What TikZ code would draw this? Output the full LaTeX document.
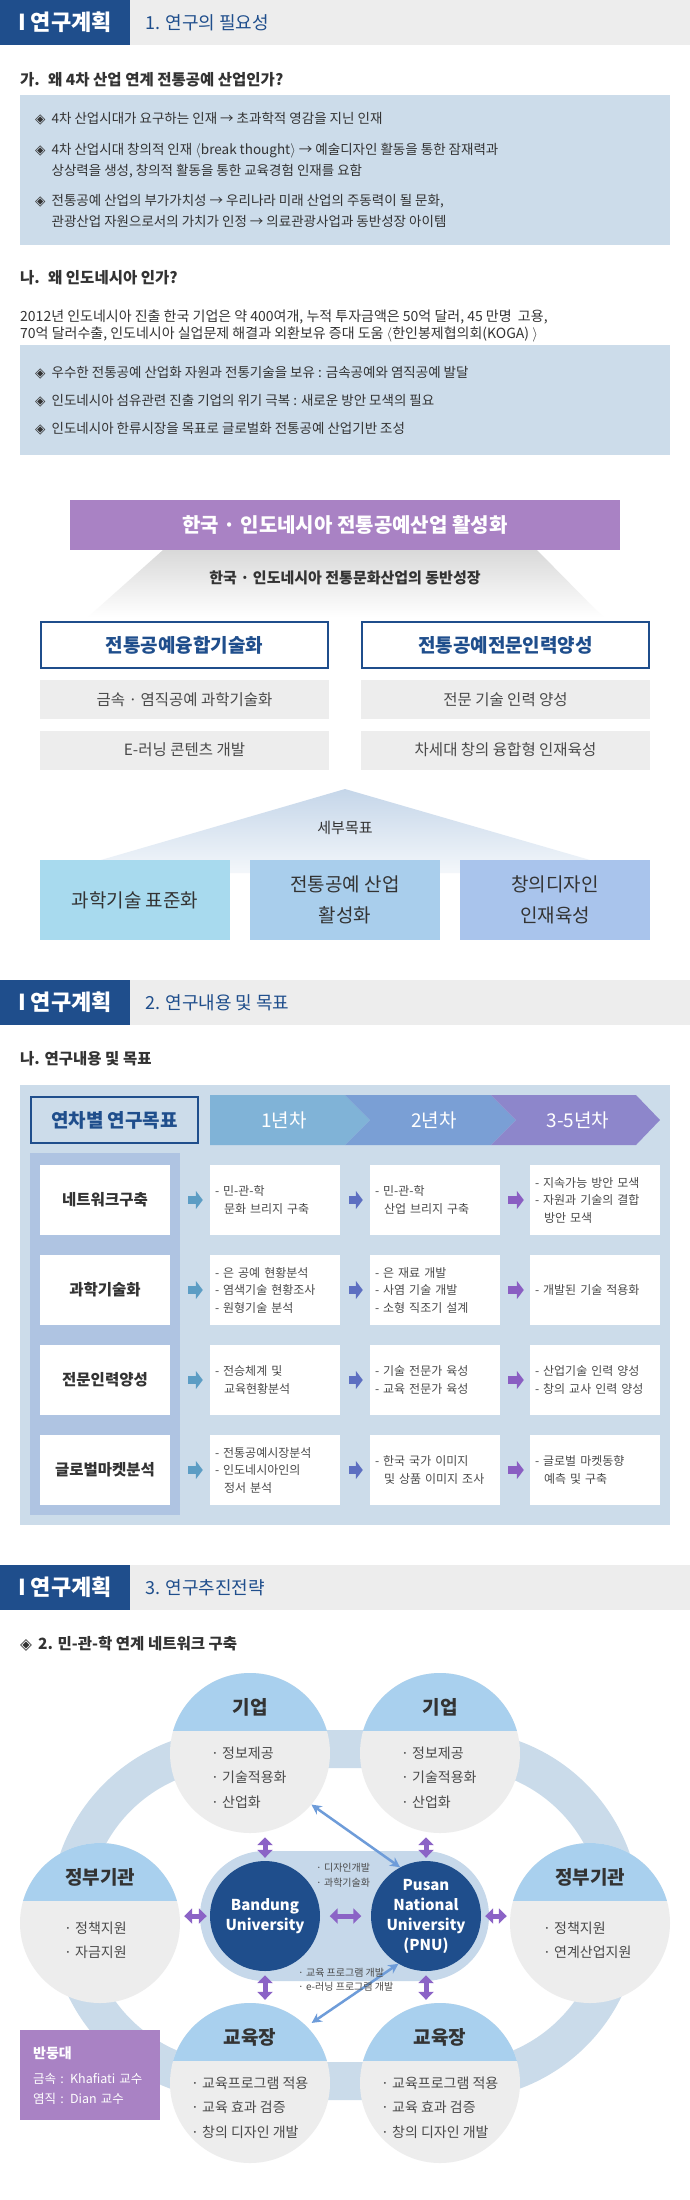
\documentclass[tikz,border=0pt]{standalone}
\usepackage{fontspec}
\setmainfont{Noto Sans CJK KR}
\newfontfamily\symfont{DejaVu Sans}
\usetikzlibrary{arrows.meta}
\definecolor{rpnavy}{HTML}{1F4E8C}
\definecolor{rpgrey}{HTML}{EDEDED}
\definecolor{rppale}{HTML}{CCDCEA}
\definecolor{rppurple}{HTML}{A982C4}
\definecolor{rpink}{HTML}{333333}
\definecolor{rpsoft}{HTML}{4A4A4A}
\definecolor{rpcyan}{HTML}{A8DAEE}
\definecolor{rpsky}{HTML}{A9CEEC}
\definecolor{rpperi}{HTML}{A9C4EC}
\definecolor{rproof}{HTML}{C5D6E9}
\definecolor{rpchevA}{HTML}{80B3D7}
\definecolor{rpchevB}{HTML}{7A9FD5}
\definecolor{rpchevC}{HTML}{8D86CB}
\definecolor{rpband}{HTML}{AFC4E2}
\definecolor{rparrA}{HTML}{5C9DC4}
\definecolor{rparrB}{HTML}{5D6FC1}
\definecolor{rparrC}{HTML}{8A5EC2}
\definecolor{rpring}{HTML}{CADBEA}
\definecolor{rphub}{HTML}{C6D8EA}
\definecolor{rpcap}{HTML}{A9D0EE}
\definecolor{rpviolet}{HTML}{8B63C6}
\definecolor{rplink}{HTML}{6E9CD9}
\newcommand{\fsz}[2]{\fontsize{#1}{#2}\selectfont}
\newcommand{\rpdia}{{\symfont ◈}\hspace{6pt}}
\newcommand{\rpgap}{\phantom{\symfont ◈}\hspace{6pt}}
\newcommand{\cind}{\hspace*{9pt}}

\begin{document}
\begin{tikzpicture}[x=1pt, y=-1pt, every node/.style={text=rpink},
    hdtag/.style={fill=rpnavy, text=white, minimum width=130pt, minimum height=45pt, inner sep=0pt,
                  font=\fsz{22}{26}\bfseries},
    hdsub/.style={anchor=west, inner sep=0pt, text=rpnavy, font=\fsz{18}{22}},
    ttl/.style={anchor=west, inner sep=0pt, font=\fsz{15.5}{20}\bfseries},
    bulletline/.style={anchor=west, inner sep=0pt, align=left, font=\fsz{13.5}{20.5}},
    track/.style={draw=rpnavy, line width=2pt, fill=white, minimum width=287pt, minimum height=46pt,
                  text=rpnavy, font=\fsz{19}{23}\bfseries},
    subbox/.style={fill=rpgrey, minimum width=289pt, minimum height=39pt, text=rpsoft, font=\fsz{15.5}{19}},
    aim/.style={minimum width=190pt, minimum height=80pt, align=center, font=\fsz{19}{31}},
    rowlab/.style={fill=white, minimum width=130pt, minimum height=70pt, font=\fsz{15.5}{19}\bfseries},
    cbox/.style={fill=white, text width=120pt, inner xsep=5pt, minimum height=70pt, align=left,
                 text=rpsoft, font=\fsz{12}{17.5}},
    sar/.style={line width=8pt, -{Triangle[width=18pt, length=7pt]}},
    orb/.style={circle, fill=rpgrey, minimum size=160pt, inner sep=0pt},
    orbttl/.style={font=\fsz{19}{23}\bfseries},
    orbtxt/.style={anchor=west, inner sep=0pt, align=left, text=rpsoft, font=\fsz{14}{24.5}},
    uni/.style={circle, fill=rpnavy, minimum size=110pt, inner sep=0pt, align=center, text=white,
                font=\fsz{15}{20}\bfseries},
    parrow/.style={rpviolet, line width=5pt, {Triangle[width=15pt, length=8pt]}-{Triangle[width=15pt, length=8pt]},
                   shorten <=4pt, shorten >=3pt},
    darrow/.style={rplink, line width=2.5pt, {Stealth[width=10pt, length=10pt]}-{Stealth[width=10pt, length=10pt]}},
    smalltag/.style={anchor=west, inner sep=0pt, align=left, text=rpsoft, font=\fsz{10}{14.5}}]
  \fill[white] (0,0) rectangle (690,2200);
  \useasboundingbox (0,0) rectangle (690,2200);

  % section bars
  \foreach \y/\t/\n in {0/{1. 연구의 필요성}/hdA, 980/{2. 연구내용 및 목표}/hdB, 1565/{3. 연구추진전략}/hdC} {
    \fill[rpgrey] (0,\y) rectangle (690,\y+45);
    \node[hdtag] (\n) at (65,\y+22.5) {I 연구계획};
    \node[hdsub] (\n-sub) at (145,\y+22.5) {\t};
  }

  % why 4th industry
  \node[ttl] (whyA) at (20,80) {가.~ 왜 4차 산업 연계 전통공예 산업인가?};
  \fill[rppale] (20,95) rectangle (670,245);
  \node[bulletline] (needA) at (35,119) {\rpdia 4차 산업시대가 요구하는 인재 → 초과학적 영감을 지닌 인재};
  \node[bulletline] (needB) at (35,160.5) {\rpdia 4차 산업시대 창의적 인재 $\langle$break thought$\rangle$ → 예술디자인 활동을 통한 잠재력과\\
    \rpgap 상상력을 생성, 창의적 활동을 통한 교육경험 인재를 요함};
  \node[bulletline] (needC) at (35,211) {\rpdia 전통공예 산업의 부가가치성 → 우리나라 미래 산업의 주동력이 될 문화,\\
    \rpgap 관광산업 자원으로서의 가치가 인정 → 의료관광사업과 동반성장 아이템};

  % why Indonesia
  \node[ttl] (whyB) at (20,278) {나.~ 왜 인도네시아 인가?};
  \node[bulletline, font=\fsz{14}{16.5}] (fact) at (20,326)
    {2012년 인도네시아 진출 한국 기업은 약 400여개, 누적 투자금액은 50억 달러, 45 만명~ 고용,\\
     70억 달러수출, 인도네시아 실업문제 해결과 외환보유 증대 도움 $\langle$한인봉제협의회(KOGA) $\rangle$};
  \fill[rppale] (20,345) rectangle (670,455);
  \foreach \y/\n/\t in {373/assetA/{우수한 전통공예 산업화 자원과 전통기술을 보유 : 금속공예와 염직공예 발달},
                        401/assetB/{인도네시아 섬유관련 진출 기업의 위기 극복 : 새로운 방안 모색의 필요},
                        429/assetC/{인도네시아 한류시장을 목표로 글로벌화 전통공예 산업기반 조성}}
    \node[bulletline] (\n) at (35,\y) {\rpdia \t};

  % vision
  \shade[top color=black!15, bottom color=white] (163,550) -- (537,550) -- (603,617) -- (88,617) -- cycle;
  \node[fill=rppurple, text=white, minimum width=550pt, minimum height=50pt, font=\fsz{20}{24}\bfseries]
    (goal) at (345,525) {한국 · 인도네시아 전통공예산업 활성화};
  \node[font=\fsz{15}{18}\bfseries] (growth) at (345,578) {한국 · 인도네시아 전통문화산업의 동반성장};
  \node[track] (fusion) at (184.5,645) {전통공예융합기술화};
  \node[track] (talent) at (505.5,645) {전통공예전문인력양성};
  \foreach \x/\y/\n/\t in {184.5/699.5/subA/{금속 · 염직공예 과학기술화}, 184.5/750/subB/{E-러닝 콘텐츠 개발},
                           505.5/699.5/subC/{전문 기술 인력 양성}, 505.5/750/subD/{차세대 창의 융합형 인재육성}}
    \node[subbox] (\n) at (\x,\y) {\t};

  % detailed goals
  \shade[top color=rproof, bottom color=rproof!20!white] (345,789) -- (590,860) -- (590,873) -- (101,873) -- (101,860) -- cycle;
  \node[font=\fsz{15}{18}] (detail) at (345,828) {세부목표};
  \foreach \x/\c/\n/\t in {135/rpcyan/aimA/{과학기술 표준화}, 345/rpsky/aimB/{전통공예 산업\\활성화},
                           555/rpperi/aimC/{창의디자인\\인재육성}}
    \node[aim, fill=\c] (\n) at (\x,900) {\t};

  % yearly plan
  \node[ttl] (planB) at (20,1059) {나. 연구내용 및 목표};
  \fill[rppale] (20,1085) rectangle (670,1525);
  \node[track, fill=rppale, minimum width=167pt, minimum height=46pt] (yearly) at (114.5,1120) {연차별 연구목표};
  \fill[rpchevA] (210,1095) -- (345,1095) -- (370,1120) -- (345,1145) -- (210,1145) -- cycle;
  \fill[rpchevB] (345,1095) -- (491,1095) -- (516,1120) -- (491,1145) -- (345,1145) -- (370,1120) -- cycle;
  \fill[rpchevC] (491,1095) -- (636,1095) -- (660,1120) -- (636,1145) -- (491,1145) -- (516,1120) -- cycle;
  \foreach \x/\n/\t in {284/yrA/1년차, 434/yrB/2년차, 578/yrC/3-5년차}
    \node[text=white, font=\fsz{19}{23}] (\n) at (\x,1120) {\t};
  \fill[rpband] (30,1153) rectangle (180,1515);
  \foreach \r/\y/\t in {1/1200/네트워크구축, 2/1290/과학기술화, 3/1380/전문인력양성, 4/1470/글로벌마켓분석}
    \node[rowlab] (lab\r) at (105,\y) {\t};

  \node[cbox] (c11) at (275,1200) {- 민-관-학\\\cind 문화 브리지 구축};
  \node[cbox] (c12) at (435,1200) {- 민-관-학\\\cind 산업 브리지 구축};
  \node[cbox] (c13) at (595,1200) {- 지속가능 방안 모색\\- 자원과 기술의 결합\\\cind 방안 모색};
  \node[cbox] (c21) at (275,1290) {- 은 공예 현황분석\\- 염색기술 현황조사\\- 원형기술 분석};
  \node[cbox] (c22) at (435,1290) {- 은 재료 개발\\- 사염 기술 개발\\- 소형 직조기 설계};
  \node[cbox] (c23) at (595,1290) {- 개발된 기술 적용화};
  \node[cbox] (c31) at (275,1380) {- 전승체계 및\\\cind 교육현황분석};
  \node[cbox] (c32) at (435,1380) {- 기술 전문가 육성\\- 교육 전문가 육성};
  \node[cbox] (c33) at (595,1380) {- 산업기술 인력 양성\\- 창의 교사 인력 양성};
  \node[cbox] (c41) at (275,1470) {- 전통공예시장분석\\- 인도네시아인의\\\cind 정서 분석};
  \node[cbox] (c42) at (435,1470) {- 한국 국가 이미지\\\cind 및 상품 이미지 조사};
  \node[cbox] (c43) at (595,1470) {- 글로벌 마켓동향\\\cind 예측 및 구축};

  \foreach \r in {1,2,3,4} {
    \draw[sar, rparrA, shorten <=18pt, shorten >=7pt] (lab\r) -- (c\r1);
    \draw[sar, rparrB, shorten <=9pt, shorten >=7pt] (c\r1) -- (c\r2);
    \draw[sar, rparrC, shorten <=8pt, shorten >=6pt] (c\r2) -- (c\r3);
  }

  % network
  \node[ttl] (planC) at (20,1644) {\rpdia 2. 민-관-학 연계 네트워크 구축};
  \draw[rpring, line width=38pt, rounded corners=165pt] (69,1749) rectangle (621,2081);
  \node[fill=rphub, minimum width=289pt, minimum height=130pt, rounded corners=65pt] (hub) at (344.5,1916) {};
  \foreach \n/\x/\y/\t in {firmA/250/1753/기업, firmB/440/1753/기업, govA/100/1923/정부기관,
                           govB/590/1923/정부기관, eduA/250/2083/교육장, eduB/440/2083/교육장} {
    \node[orb] (\n) at (\x,\y) {};
    \begin{scope}
      \clip (\x,\y) circle[radius=80pt];
      \fill[rpcap] (\x-80,\y-80) rectangle (\x+80,\y-22);
    \end{scope}
    \node[orbttl] (\n-ttl) at (\x,\y-46) {\t};
  }
  \node[orbtxt] (firmA-txt) at (211,1777.5) {· 정보제공\\· 기술적용화\\· 산업화};
  \node[orbtxt] (firmB-txt) at (401,1777.5) {· 정보제공\\· 기술적용화\\· 산업화};
  \node[orbtxt] (govA-txt) at (64,1940) {· 정책지원\\· 자금지원};
  \node[orbtxt] (govB-txt) at (543,1940) {· 정책지원\\· 연계산업지원};
  \node[orbtxt] (eduA-txt) at (191,2107.5) {· 교육프로그램 적용\\· 교육 효과 검증\\· 창의 디자인 개발};
  \node[orbtxt] (eduB-txt) at (381,2107.5) {· 교육프로그램 적용\\· 교육 효과 검증\\· 창의 디자인 개발};

  \node[uni] (bdg) at (265,1916) {Bandung\\University};
  \node[uni] (pnu) at (426,1916) {Pusan\\National\\University\\(PNU)};

  \draw[parrow] (firmA.south -| bdg.north) -- (bdg.north);
  \draw[parrow] (firmB.south -| pnu.north) -- (pnu.north);
  \draw[parrow] (bdg.south) -- (eduA.north -| bdg.south);
  \draw[parrow] (pnu.south) -- (eduB.north -| pnu.south);
  \draw[parrow] (govA.east |- bdg.west) -- (bdg.west);
  \draw[parrow, shorten <=9.5pt, shorten >=9.5pt] (bdg.east) -- (pnu.west);
  \draw[parrow] (pnu.east) -- (govB.west |- pnu.east);
  \draw[darrow] (firmA.-40) -- (pnu.118);
  \draw[darrow, shorten >=6pt] (pnu.240) -- (eduA.45);

  \node[smalltag] (linkA) at (316,1875) {· 디자인개발\\· 과학기술화};
  \node[smalltag] (linkB) at (298,1979.5) {· 교육 프로그램 개발\\· e-러닝 프로그램 개발};

  \node[fill=rppurple, anchor=north west, minimum height=90pt, text width=114pt, inner xsep=13pt,
        align=left, text=white, font=\fsz{12.5}{20}] (bdnote) at (20,2030)
    {{\fsz{14}{20}\bfseries 반둥대}\\[5pt]금속 : Khafiati 교수\\염직 : Dian 교수};
\end{tikzpicture}
\end{document}
